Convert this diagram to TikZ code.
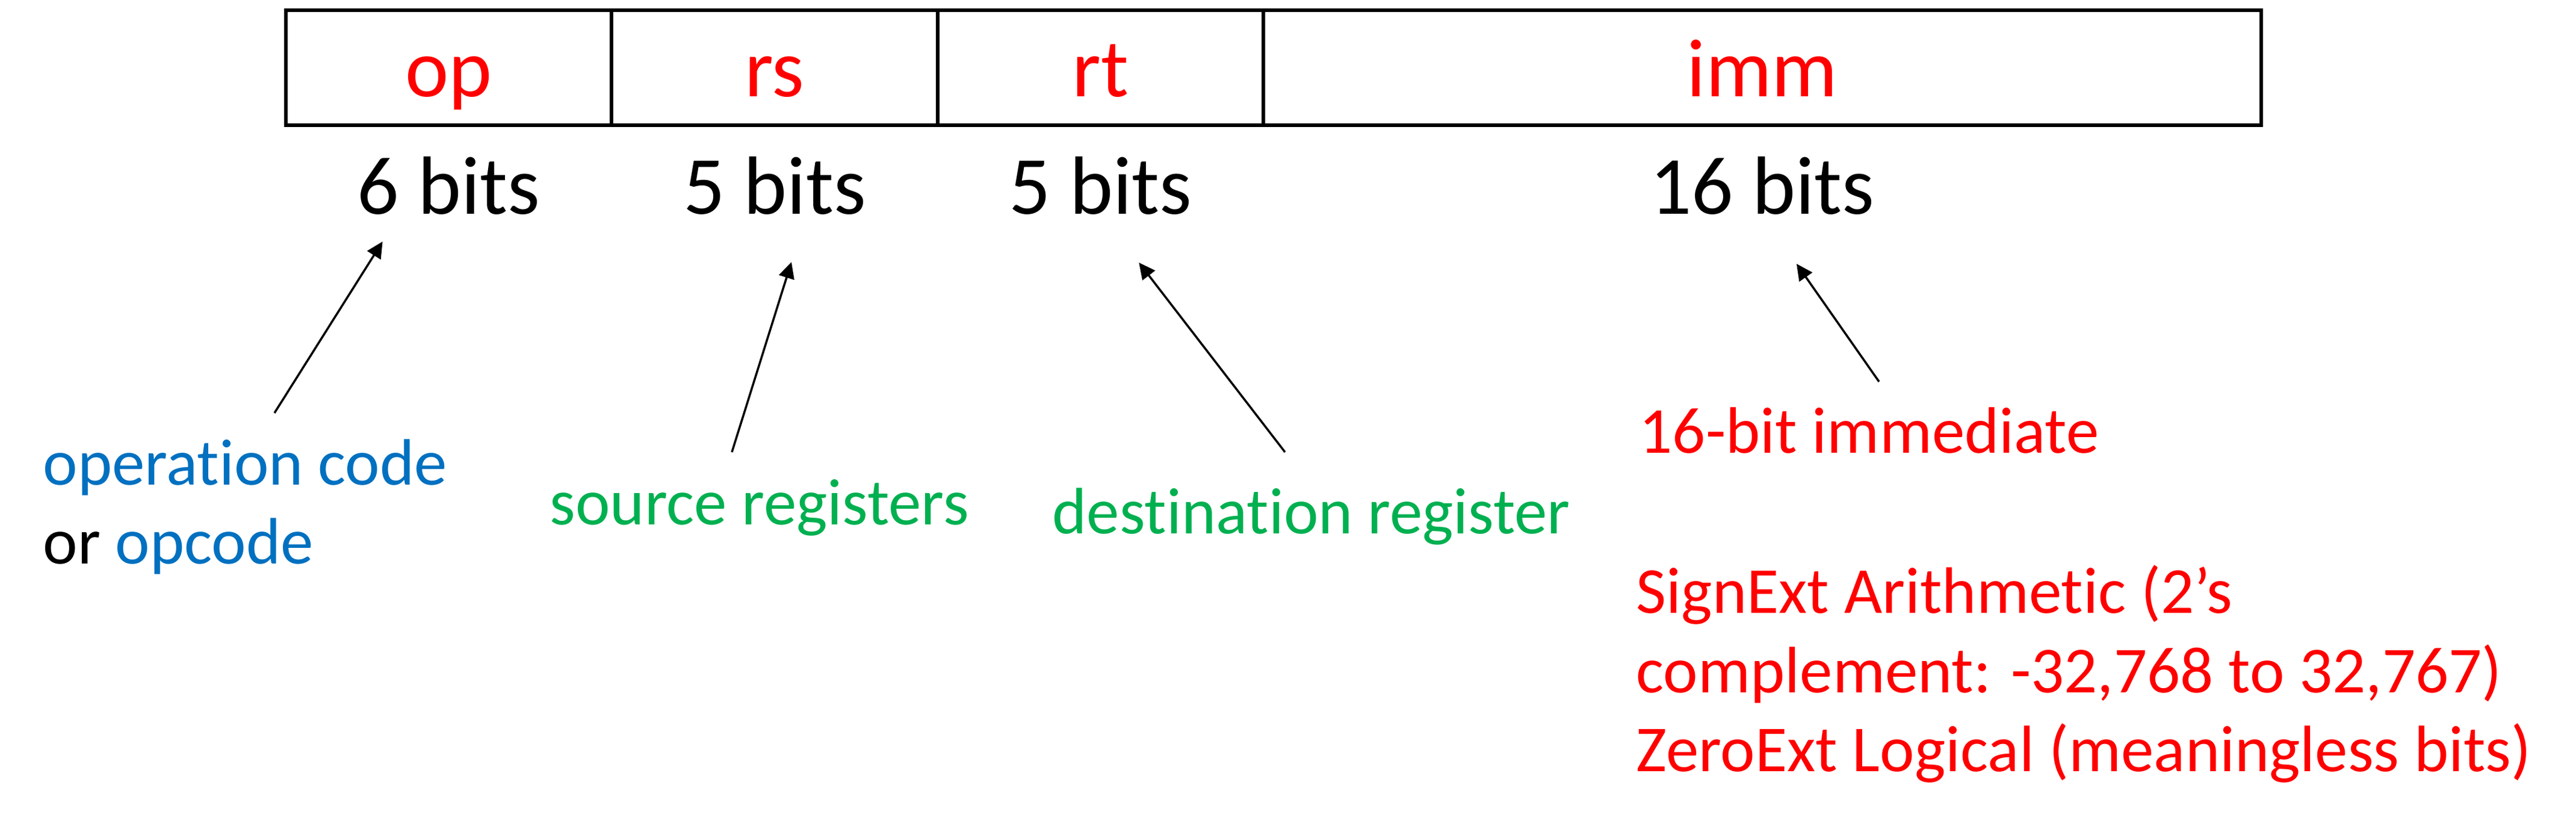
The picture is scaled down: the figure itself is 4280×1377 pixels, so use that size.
\documentclass[tikz,border=0pt]{standalone}
\usepackage{fontspec}
\setmainfont{Carlito}[RawFeature={-liga;-clig;-calt;-dlig}]
\usetikzlibrary{positioning,calc,arrows.meta}
\definecolor{opblue}{RGB}{0,112,192}
\definecolor{reggreen}{RGB}{0,176,80}
\definecolor{immred}{RGB}{255,0,0}
\tikzset{
  field/.style={draw, line width=0.06cm, inner sep=0, outer sep=0, text=immred,
    text height=1.43cm, text depth=0.48cm, font=\fontsize{39}{47}\selectfont},
  bitcount/.style={inner sep=0, anchor=base, font=\fontsize{39}{47}\selectfont},
  note/.style={inner sep=0, anchor=base west, align=left, font=\fontsize{31}{37.5}\selectfont},
  pointer/.style={-{Triangle[length=0.27cm,width=0.26cm]}, line width=0.035cm}
}
\begin{document}
\begin{tikzpicture}[x=0.01cm,y=-0.01cm]
                        \useasboundingbox (0,0) rectangle (4280,1377);

                        % Drawing fields op rs rt imm
                        \node [field, minimum width=5.41cm, anchor=north west] (op) at (475,17) {op};%
                        \node [field, minimum width=5.41cm, right=0cm of op] (rs) {rs};%
                        \node [field, minimum width=5.41cm, right=0cm of rs] (rt) {rt};%
                        \node [field, minimum width=16.57cm, right=0cm of rt] (imm) {imm};%

                        % Marking field widths
                        \node [bitcount, below=1.47cm of op, anchor=base] (bop) {6 bits};%
                        \node [bitcount, below=1.47cm of rs, anchor=base] (brs) {5 bits};%
                        \node [bitcount, below=1.47cm of rt, anchor=base] (brt) {5 bits};%
                        \node [bitcount, below=1.47cm of imm, anchor=base] (bimm) {16 bits};%

                        % Marking notes (base = last line)
                        \node [note, text=opblue] (opc) at (71,937) {operation code\\{\color{black}or} opcode};%
                        \node [note, text=reggreen] (src) at (913,872) {source registers};%
                        \node [note, text=reggreen] (dst) at (1748,887) {destination register};%
                        \node [note, text=immred] (immn) at (2723,753) {16-bit immediate};%
                        \node [note, text=immred] (ext) at (2718,1282) {SignExt Arithmetic (2’s\\complement: -32,768 to 32,767)\\ZeroExt Logical (meaningless bits)};%

                        % Drawing pointers note -> width
                        \draw [pointer] ($(opc.base west)+(385,-251)$) -- ($(bop.base)+(-110,46)$);%
                        \draw [pointer] ($(src.base west)+(303,-121)$) -- ($(brs.base)+(28,80)$);%
                        \draw [pointer] ($(dst.base west)+(387,-136)$) -- ($(brt.base)+(64,81)$);%
                        \draw [pointer] ($(immn.base west)+(399,-119)$) -- ($(bimm.base)+(57,83)$);%
\end{tikzpicture}
\end{document}
